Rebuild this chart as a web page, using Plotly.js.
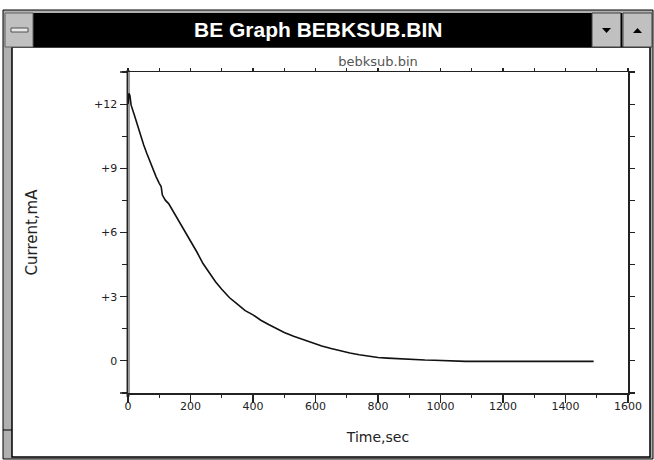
<!DOCTYPE html>
<html>
<head>
<meta charset="utf-8">
<script src="https://cdn.plot.ly/plotly-3.0.1.min.js"></script>
<style>html,body{margin:0;padding:0;background:#fff;}#chart{width:654px;height:460px;}</style>
</head>
<body>
<div id="chart"></div>
<script>
// Data
const timeSec = [0, 3, 6, 10, 20, 30, 40, 50, 60, 70, 80, 90, 100, 106, 110, 115, 120, 130, 140, 150, 160, 175, 190, 205, 220, 240, 260, 280, 300, 325, 350, 375, 400, 425, 450, 475, 500, 530, 560, 590, 620, 650, 680, 710, 740, 770, 800, 830, 860, 890, 920, 950, 980, 1000, 1020, 1040, 1080, 1120, 1160, 1200, 1250, 1300, 1350, 1400, 1450, 1490];
const currentMA = [12.0, 12.5, 12.4, 11.95, 11.5, 11.0, 10.55, 10.1, 9.7, 9.3, 8.95, 8.6, 8.3, 8.15, 7.75, 7.6, 7.5, 7.35, 7.1, 6.85, 6.6, 6.25, 5.9, 5.5, 5.1, 4.55, 4.1, 3.7, 3.35, 2.95, 2.65, 2.35, 2.15, 1.9, 1.7, 1.5, 1.33, 1.15, 1.0, 0.82, 0.7, 0.58, 0.47, 0.37, 0.29, 0.22, 0.16, 0.13, 0.1, 0.07, 0.05, 0.04, 0.03, 0.02, 0.0, -0.02, -0.02, -0.02, -0.02, -0.02, -0.02, -0.02, -0.02, -0.02, -0.02, -0.02];
const yTickVals = [0, 3, 6, 9, 12];
const yTickText = ['0', '+3', '+6', '+9', '+12'];
const xTickVals = [0, 200, 400, 600, 800, 1000, 1200, 1400, 1600];
const xTickText = ['0', '200', '400', '600', '800', '1000', '1200', '1400', '1600'];
const windowTitle = 'BE Graph BEBKSUB.BIN';
const plotTitle = 'bebksub.bin';
const xTitle = 'Time,sec';
const yTitle = 'Current,mA';

// pixel -> paper helpers (plot area: x 128..628, y 72..393)
const L = 128, R = 628, T = 72, B = 393;
const X = p => (p - L) / (R - L);
const Y = p => (B - p) / (B - T);
const rect = (x0, y0, x1, y1, fill, lc, lw, layer) => ({type: 'rect', xref: 'paper', yref: 'paper', x0: X(x0), x1: X(x1), y0: Y(y0), y1: Y(y1), fillcolor: fill, line: {color: lc, width: lw}, layer: layer || 'below'});
const line = (x0, y0, x1, y1, lc, lw, layer) => ({type: 'line', xref: 'paper', yref: 'paper', x0: X(x0), x1: X(x1), y0: Y(y0), y1: Y(y1), line: {color: lc, width: lw}, layer: layer || 'below'});
const tri = (pts, fill) => ({type: 'path', xref: 'paper', yref: 'paper', path: 'M' + pts.map(p => X(p[0]) + ',' + Y(p[1])).join('L') + 'Z', fillcolor: fill, line: {color: fill, width: 0}, layer: 'below'});

const shapes = [
  rect(3, 10, 653, 459, '#b0b0b0', '#000', 1),
  rect(12, 47, 650, 457, '#ffffff', '#000', 1.5),
  rect(33, 13, 592, 47, '#000', '#000', 0),
  rect(5, 13, 33, 47, '#c0c0c0', '#606060', 1),
  rect(11, 28, 28, 32, '#e8e8e8', '#505050', 1),
  rect(592, 13, 621, 47, '#c0c0c0', '#404040', 1),
  rect(623, 13, 652, 47, '#c0c0c0', '#404040', 1),
  line(621.5, 13, 621.5, 47, '#000', 1.5),
  tri([[602, 28], [611, 28], [606.5, 33]], '#000'),
  tri([[633, 33], [642, 33], [637.5, 28]], '#000'),
  line(3, 430, 12, 430, '#000', 1),
  line(120, 393, 128, 393, '#222', 1.5),
  line(120, 72, 128, 72, '#222', 1.5),
  {type: 'line', xref: 'paper', yref: 'paper', x0: 0, x1: 0, y0: Y(397), y1: Y(70), line: {color: '#9a9a9a', width: 4}, layer: 'below'}
];

const trace = {
  x: timeSec, y: currentMA, type: 'scatter', mode: 'lines',
  line: {color: '#111', width: 1.6}, hoverinfo: 'skip', showlegend: false
};
// same data on the mirrored frame axes (invisible) so the top/right axes are drawn
const frameTrace = {
  x: timeSec, y: currentMA, type: 'scatter', mode: 'lines', xaxis: 'x2', yaxis: 'y2',
  opacity: 0, line: {color: '#111', width: 0}, hoverinfo: 'skip', showlegend: false
};

const FF = 'DejaVu Sans, Verdana, sans-serif';

const layout = {
  width: 654, height: 460,
  margin: {l: L, r: 654 - R, t: T, b: 460 - B, pad: 0},
  paper_bgcolor: '#ffffff', plot_bgcolor: 'rgba(0,0,0,0)',
  font: {family: FF, size: 11, color: '#222'},
  showlegend: false,
  title: {text: plotTitle, font: {family: FF, size: 13, color: '#555'}, xref: 'paper', x: 0.5, xanchor: 'center', yref: 'container', y: 1 - 61 / 460, yanchor: 'middle'},
  xaxis: {
    range: [0, 1600], showgrid: false, zeroline: false,
    showline: true, linecolor: '#222', linewidth: 1.5,
    tickmode: 'array', tickvals: xTickVals, ticktext: xTickText,
    ticks: 'outside', ticklen: 8, tickwidth: 1.2, tickcolor: '#222',
    minor: {dtick: 100, tick0: 0, ticks: 'outside', ticklen: 3, tickwidth: 1.2, tickcolor: '#222', showgrid: false},
    ticklabelstandoff: -6,
    tickfont: {family: FF, size: 11, color: '#222'},
    title: {text: xTitle, font: {family: FF, size: 14, color: '#222'}, standoff: 20},
    fixedrange: true
  },
  yaxis: {
    range: [-1.5, 13.5], showgrid: false, zeroline: false,
    showline: true, linecolor: '#222', linewidth: 1.5,
    tickmode: 'array', tickvals: yTickVals, ticktext: yTickText,
    ticks: 'outside', ticklen: 7, tickwidth: 1.2, tickcolor: '#222',
    minor: {dtick: 1.5, tick0: 0, ticks: 'outside', ticklen: 5, tickwidth: 1.2, tickcolor: '#222', showgrid: false},
    ticklabelstandoff: 0,
    tickfont: {family: FF, size: 11, color: '#222'},
    title: {text: yTitle, font: {family: FF, size: 15, color: '#222'}, standoff: 53},
    fixedrange: true
  },
  xaxis2: {
    overlaying: 'x', side: 'top', anchor: 'y2', range: [0, 1600],
    showgrid: false, zeroline: false, showline: true, linecolor: '#222', linewidth: 1.5,
    tickmode: 'linear', tick0: 0, dtick: 100, ticks: 'outside', ticklen: 3, tickwidth: 1.2, tickcolor: '#222',
    showticklabels: false, fixedrange: true
  },
  yaxis2: {
    overlaying: 'y', side: 'right', anchor: 'x2', range: [-1.5, 13.5],
    showgrid: false, zeroline: false, showline: true, linecolor: '#222', linewidth: 2,
    tickmode: 'linear', tick0: 0, dtick: 1.5, ticks: 'outside', ticklen: 5, tickwidth: 1.2, tickcolor: '#222',
    showticklabels: false, fixedrange: true
  },
  shapes: shapes,
  annotations: [
    {text: '<b>' + windowTitle + '</b>', xref: 'paper', yref: 'paper', x: X(318), y: Y(30), xanchor: 'center', yanchor: 'middle', showarrow: false,
     font: {family: 'Liberation Sans, Arial, sans-serif', size: 21, color: '#ffffff'}}
  ]
};

Plotly.newPlot('chart', [trace, frameTrace], layout, {displayModeBar: false, staticPlot: true});
</script>
</body>
</html>
